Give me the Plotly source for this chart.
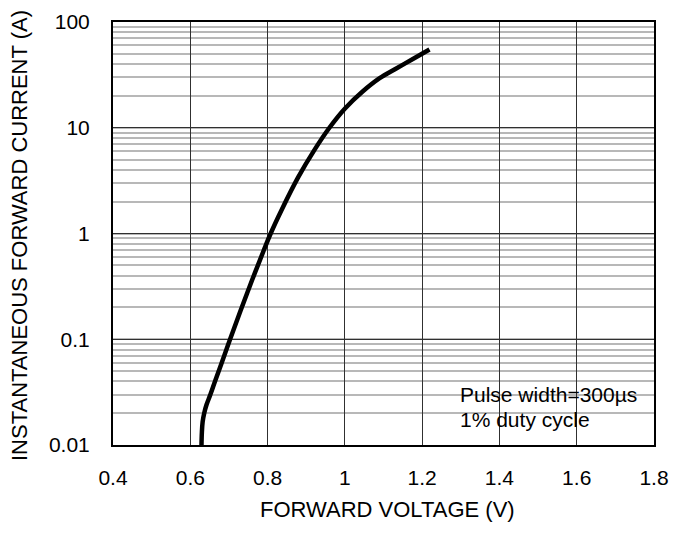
import plotly.graph_objects as go

voltage = [0.629, 0.630, 0.632, 0.636, 0.642, 0.652, 0.665, 0.680, 0.703, 0.730,
           0.760, 0.790, 0.808, 0.836, 0.879, 0.923, 0.960, 1.001, 1.046, 1.090,
           1.133, 1.176, 1.219]
current = [0.01, 0.0132, 0.0166, 0.020, 0.024, 0.030, 0.041, 0.058, 0.10, 0.186,
           0.363, 0.69, 1.0, 1.66, 3.39, 6.31, 10.0, 15.3, 22.0, 29.4,
           36.3, 44.7, 55.0]

x_ticks = [0.4, 0.6, 0.8, 1.0, 1.2, 1.4, 1.6, 1.8]
x_labels = ["0.4", "0.6", "0.8", "1", "1.2", "1.4", "1.6", "1.8"]
y_ticks = [0.01, 0.1, 1, 10, 100]
y_labels = ["0.01", "0.1", "1", "10", "100"]
x_title = "FORWARD VOLTAGE (V)"
y_title = "INSTANTANEOUS FORWARD CURRENT (A)"
note_lines = ["Pulse width=300µs", "1% duty cycle"]

FONT = "Liberation Sans, Arial, sans-serif"
FS = 21
FT = 22

fig = go.Figure()
fig.add_trace(go.Scatter(
    x=voltage, y=current, mode="lines",
    line=dict(color="black", width=4.5, shape="spline", smoothing=1.0),
    showlegend=False, hoverinfo="skip",
))

fig.update_layout(
    width=688, height=533,
    margin=dict(l=105, r=42, t=14, b=96),
    paper_bgcolor="white", plot_bgcolor="white",
    font=dict(family=FONT, size=FS, color="black"),
    xaxis=dict(
        range=[0.4, 1.8], tickvals=x_ticks, ticktext=x_labels,
        showgrid=True, gridcolor="#303030", gridwidth=1,
        showline=True, linecolor="black", linewidth=2, mirror=True,
        ticks="", zeroline=False, ticklabelstandoff=13, automargin=False,
        ticklabeloverflow="allow",
        tickfont=dict(family=FONT, size=FS),
    ),
    yaxis=dict(
        type="log", range=[-2, 2], tickvals=y_ticks, ticktext=y_labels,
        showgrid=True, gridcolor="#303030", gridwidth=1,
        showline=True, linecolor="black", linewidth=2, mirror=True,
        ticks="", zeroline=False, ticklabelstandoff=17, automargin=False,
        ticklabeloverflow="allow",
        minor=dict(showgrid=True, dtick="D1", gridcolor="#b8b8b8", gridwidth=1.6),
        tickfont=dict(family=FONT, size=FS),
    ),
)

fig.add_annotation(xref="paper", yref="paper", x=0.508, y=-0.152,
                   text=x_title, showarrow=False, xanchor="center", yanchor="middle",
                   font=dict(family=FONT, size=FT, color="black"))
fig.add_annotation(xref="paper", yref="paper", x=-0.173, y=0.495,
                   text=y_title, showarrow=False, textangle=-90,
                   xanchor="center", yanchor="middle",
                   font=dict(family=FONT, size=FT, color="black"))

fig.add_shape(type="rect", xref="paper", yref="paper",
              x0=0.623, x1=0.983, y0=0.014, y1=0.162,
              fillcolor="white", line=dict(width=0), layer="between")
fig.add_annotation(xref="paper", yref="paper", x=0.637, y=0.120,
                   text=note_lines[0], showarrow=False, xanchor="left", yanchor="middle",
                   font=dict(family=FONT, size=FS, color="black"))
fig.add_annotation(xref="paper", yref="paper", x=0.637, y=0.061,
                   text=note_lines[1], showarrow=False, xanchor="left", yanchor="middle",
                   font=dict(family=FONT, size=FS, color="black"))

fig.write_html("out.html")
